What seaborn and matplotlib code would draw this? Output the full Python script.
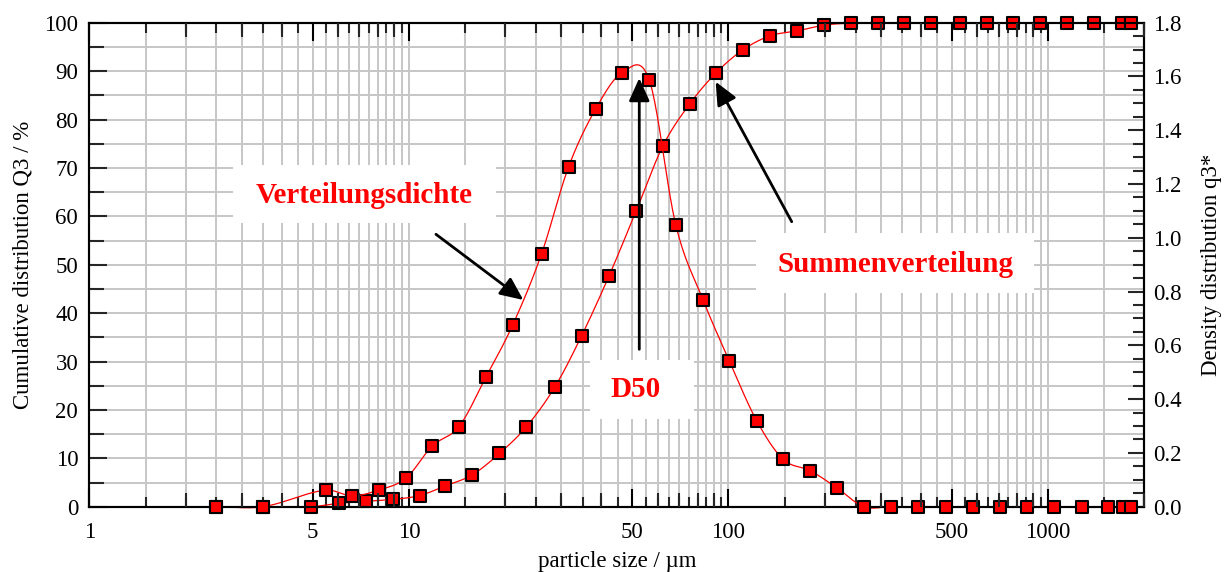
import numpy as np
import pandas as pd
import matplotlib
matplotlib.use("Agg")
import matplotlib.pyplot as plt
import seaborn as sns
from matplotlib.ticker import FixedLocator, MultipleLocator, FuncFormatter, NullFormatter
from matplotlib.patches import Rectangle

# ---------------- data ----------------
size_cum = [2.5, 3.5, 4.95, 6.03, 7.32, 8.9, 10.8, 13.0, 15.8, 19.2, 23.3, 28.6,
            34.7, 42.3, 51.4, 62.4, 75.6, 91.6, 111, 135, 164, 199, 241, 293,
            355, 430, 530, 645, 777, 943, 1146, 1392, 1703, 1817]
q3_cum = [0, 0, 0, 0.7, 1.1, 1.5, 2.3, 4.3, 6.6, 11.0, 16.5, 24.7,
          35.3, 47.7, 61.1, 74.6, 83.2, 89.7, 94.4, 97.3, 98.3, 99.5, 99.9, 100,
          100, 100, 100, 100, 100, 100, 100, 100, 100, 100]

size_dens = [2.5, 3.5, 5.49, 6.64, 8.05, 9.79, 11.84, 14.35, 17.43, 21.13, 26.0, 31.6,
             38.4, 46.5, 56.5, 68.4, 83.2, 100.6, 122.5, 148.4, 180, 218, 265, 322,
             392, 479, 583, 707, 859, 1043, 1277, 1539, 1720, 1817]
q3_dens = [0, 0, 0.062, 0.040, 0.062, 0.106, 0.226, 0.298, 0.483, 0.676, 0.940, 1.264,
           1.479, 1.614, 1.587, 1.048, 0.770, 0.542, 0.320, 0.176, 0.134, 0.071, 0, 0,
           0, 0, 0, 0, 0, 0, 0, 0, 0, 0]

x_major_ticks = [1, 5, 10, 50, 100, 500, 1000]

label_left = "Cumulative distribution Q3 / %"
label_right = "Density distribution q3*"
label_x = "particle size / µm"
txt_dens = "Verteilungsdichte"
txt_cum = "Summenverteilung"
txt_d50 = "D50"


def smooth(xs, ys, n=24):
    """Cubic Hermite (Catmull-Rom type) curve through the points, in log-x space."""
    u = np.log10(np.asarray(xs, float))
    y = np.asarray(ys, float)
    m = np.empty_like(y)
    m[1:-1] = (y[2:] - y[:-2]) / (u[2:] - u[:-2])
    m[0] = (y[1] - y[0]) / (u[1] - u[0])
    m[-1] = (y[-1] - y[-2]) / (u[-1] - u[-2])
    uu, yy = [], []
    for i in range(len(u) - 1):
        h = u[i + 1] - u[i]
        t = np.linspace(0, 1, n, endpoint=False)
        h00 = 2 * t**3 - 3 * t**2 + 1
        h10 = t**3 - 2 * t**2 + t
        h01 = -2 * t**3 + 3 * t**2
        h11 = t**3 - t**2
        uu.append(u[i] + t * h)
        yy.append(h00 * y[i] + h10 * h * m[i] + h01 * y[i + 1] + h11 * h * m[i + 1])
    uu.append([u[-1]])
    yy.append([y[-1]])
    return 10 ** np.concatenate(uu), np.concatenate(yy)


sns.set_theme(style="white")
plt.rcParams["font.family"] = ["Liberation Serif", "DejaVu Serif"]
plt.rcParams["axes.linewidth"] = 1.5
plt.rcParams["axes.edgecolor"] = "black"

fig = plt.figure(figsize=(12.26, 5.72), dpi=100)
rect = [0.07284, 0.11416, 0.86052, 0.84615]
ax = fig.add_axes(rect)
ax2 = ax.twinx()

ax.set_xscale("log")
ax.set_xlim(1, 2000)
ax.set_ylim(0, 100)
ax2.set_ylim(0, 1.8)

# x ticks
x_half = np.concatenate([np.arange(1.5, 10.01, 0.5), np.arange(15, 100.1, 5),
                         np.arange(150, 1000.1, 50), [1500, 2000]])
ax.xaxis.set_major_locator(FixedLocator(x_major_ticks))
ax.xaxis.set_major_formatter(FuncFormatter(lambda v, p: f"{v:g}"))
ax.xaxis.set_minor_locator(FixedLocator(x_half))
ax.xaxis.set_minor_formatter(NullFormatter())
ax.tick_params(axis="x", which="major", direction="in", length=13, width=1.5,
               top=True, bottom=True, labelsize=16.5, pad=11, colors="black")
ax.tick_params(axis="x", which="minor", direction="in", length=7.5, width=1.5,
               top=True, bottom=True)

# y ticks
ax.yaxis.set_major_locator(MultipleLocator(10))
ax.yaxis.set_minor_locator(MultipleLocator(5))
ax.tick_params(axis="y", which="major", direction="in", length=13, width=1.5,
               left=True, right=False, labelsize=16.5, pad=8)
ax.tick_params(axis="y", which="minor", direction="in", length=10.5, width=1.5,
               left=True, right=False)
ax2.yaxis.set_major_locator(MultipleLocator(0.2))
ax2.yaxis.set_minor_locator(MultipleLocator(0.05))
ax2.yaxis.set_major_formatter(FuncFormatter(lambda v, p: f"{v:.1f}"))
ax2.tick_params(axis="y", which="major", direction="in", length=11.5, width=1.5,
                right=True, left=False, labelsize=16.5, pad=6.5)
ax2.tick_params(axis="y", which="minor", direction="in", length=8, width=1.5,
                right=True, left=False)

# third tick level (integer positions) on an overlay axes
x_int = [v for v in np.concatenate([np.arange(2, 10), np.arange(20, 100, 10),
                                    np.arange(200, 1000, 100), [2000]])
         if v not in x_major_ticks]
ax3 = fig.add_axes(rect, frameon=False)
ax3.set_xscale("log")
ax3.set_xlim(1, 2000)
ax3.xaxis.set_major_locator(FixedLocator(x_int))
ax3.xaxis.set_minor_locator(FixedLocator([]))
ax3.tick_params(axis="x", which="major", direction="in", length=10, width=1.5,
                top=True, bottom=True, labelbottom=False, labeltop=False)
ax3.tick_params(axis="x", which="minor", length=0)
ax3.set_yticks([])
ax3.patch.set_visible(False)

# grid
ax.set_axisbelow(True)
ax.grid(True, which="both", axis="both", color="#c6c6c6", lw=1.4)
ax2.grid(False)

for a in (ax, ax2):
    for s in a.spines.values():
        s.set_color("black")
        s.set_linewidth(1.5)

# white label boxes
boxes = [(0.1362, 0.586, 0.2493, 0.120), (0.632, 0.4415, 0.2635, 0.124),
         (0.4746, 0.1812, 0.0986, 0.1219)]
for (bx, by, bw, bh) in boxes:
    ax.add_patch(Rectangle((bx, by), bw, bh, transform=ax.transAxes,
                           facecolor="white", edgecolor="none", zorder=1.5))

# cumulative curve (left axis)
xs_c, ys_c = smooth(size_cum, q3_cum)
sns.lineplot(x=xs_c, y=ys_c, ax=ax, color="#ff0000", lw=0.9, sort=False,
             zorder=2.5, clip_on=False)
sns.scatterplot(x=size_cum, y=q3_cum, ax=ax, marker="s", s=82, color="#ff0000",
                edgecolor="black", linewidth=1.5, zorder=3, clip_on=False)

# density curve (right axis)
xs_d, ys_d = smooth(size_dens, q3_dens)
sns.lineplot(x=xs_d, y=ys_d, ax=ax2, color="#ff0000", lw=0.9, sort=False,
             zorder=2.5, clip_on=False)
sns.scatterplot(x=size_dens, y=q3_dens, ax=ax2, marker="s", s=82, color="#ff0000",
                edgecolor="black", linewidth=1.5, zorder=3, clip_on=False)

# text labels
tkw = dict(transform=ax.transAxes, ha="center", va="center", color="#ff0000",
           fontsize=21, fontweight="bold", zorder=5)
ax.text(0.2607, 0.643, txt_dens, **tkw)
ax.text(0.7637, 0.500, txt_cum, **tkw)
ax.text(0.5182, 0.242, txt_d50, **tkw)

# arrows
akw = dict(arrowstyle="-|>,head_length=1.0,head_width=0.45", color="black", lw=2,
           shrinkA=0, shrinkB=0, mutation_scale=14)
ax2.annotate("", xy=(0.5213, 0.8857), xytext=(0.5213, 0.3252),
             xycoords="axes fraction", textcoords="axes fraction", arrowprops=akw)
ax2.annotate("", xy=(0.5937, 0.8781), xytext=(0.6658, 0.5888),
             xycoords="axes fraction", textcoords="axes fraction", arrowprops=akw)
ax2.annotate("", xy=(0.4114, 0.4271), xytext=(0.3286, 0.5628),
             xycoords="axes fraction", textcoords="axes fraction", arrowprops=akw)

ax.set_ylabel(label_left, fontsize=16.5, labelpad=8, color="black")
ax2.set_ylabel(label_right, fontsize=16.5, labelpad=14, color="black")
ax.set_xlabel(label_x, fontsize=16.5, labelpad=6, color="black")
ax.tick_params(labelcolor="black")
ax2.tick_params(labelcolor="black")

fig.savefig("out.png", dpi=100)
